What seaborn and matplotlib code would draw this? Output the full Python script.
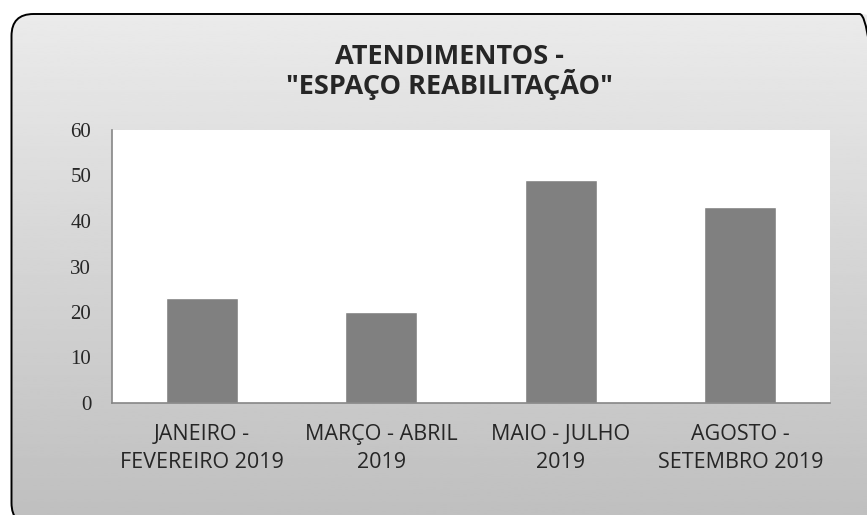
import matplotlib
matplotlib.use("Agg")
import matplotlib.pyplot as plt
import numpy as np
import pandas as pd
import seaborn as sns
from matplotlib.patches import FancyBboxPatch

# data
periods = ["JANEIRO -\nFEVEREIRO 2019", "MARÇO - ABRIL\n2019", "MAIO - JULHO\n2019", "AGOSTO -\nSETEMBRO 2019"]
atendimentos = [23, 20, 49, 43]
y_ticks = [0, 10, 20, 30, 40, 50, 60]
title = 'ATENDIMENTOS -\n"ESPAÇO REABILITAÇÃO"'

df = pd.DataFrame({"periodo": periods, "atendimentos": atendimentos})

sns.set_style("white")
plt.rcParams["font.family"] = ["Open Sans", "DejaVu Sans"]

fig = plt.figure(figsize=(8.67, 5.15), dpi=100)
fig.patch.set_facecolor("white")

# background: rounded frame with vertical grey gradient
ax_bg = fig.add_axes([0, 0, 1, 1], zorder=-5)
ax_bg.set_axis_off()
frame = FancyBboxPatch((0.115, -0.1), 8.70, 5.01 + 0.1,
                       boxstyle="round,pad=0,rounding_size=0.22",
                       transform=fig.dpi_scale_trans,
                       facecolor="none", edgecolor="black", linewidth=1.4, zorder=3)
ax_bg.add_patch(frame)
grad = np.linspace(0.75, 0.925, 256).reshape(-1, 1)
img = ax_bg.imshow(grad, cmap="gray", vmin=0, vmax=1, aspect="auto",
                   extent=[0, 1, 0, 1], origin="lower", zorder=1)
img.set_clip_path(frame)
ax_bg.set_xlim(0, 1)
ax_bg.set_ylim(0, 1)

# plot area
ax = fig.add_axes([112 / 867, 1 - 403 / 515, (830 - 112) / 867, (403 - 130) / 515])
ax.set_facecolor("white")
sns.barplot(data=df, x="periodo", y="atendimentos", color="#808080",
            saturation=1, width=0.4, ax=ax)

ax.set_xlim(-0.5, 3.5)
ax.set_ylim(0, 60)
ax.set_yticks(y_ticks)
ax.set_yticklabels([str(v) for v in y_ticks], family="Liberation Serif", fontsize=15)
ax.set_xticks([-0.5, 0.5, 1.5, 2.5, 3.5])
ax.set_xticklabels([])
ax.set_xticks(range(len(periods)), minor=True)
ax.set_xticklabels(periods, minor=True, fontsize=15.5, linespacing=1.45)
ax.tick_params(axis="x", which="minor", length=0, pad=15)
ax.tick_params(axis="both", which="major", length=6, width=1, color="#868686",
               direction="out")
ax.tick_params(axis="y", pad=9)
ax.set_xlabel("")
ax.set_ylabel("")
for side in ["top", "right"]:
    ax.spines[side].set_visible(False)
for side in ["left", "bottom"]:
    ax.spines[side].set_color("#868686")
    ax.spines[side].set_linewidth(1.2)

fig.text(449 / 867, 1 - 72 / 515, title, ha="center", va="center",
         fontsize=19.5, fontweight="bold", linespacing=1.0)

fig.savefig("out.png", dpi=100)
